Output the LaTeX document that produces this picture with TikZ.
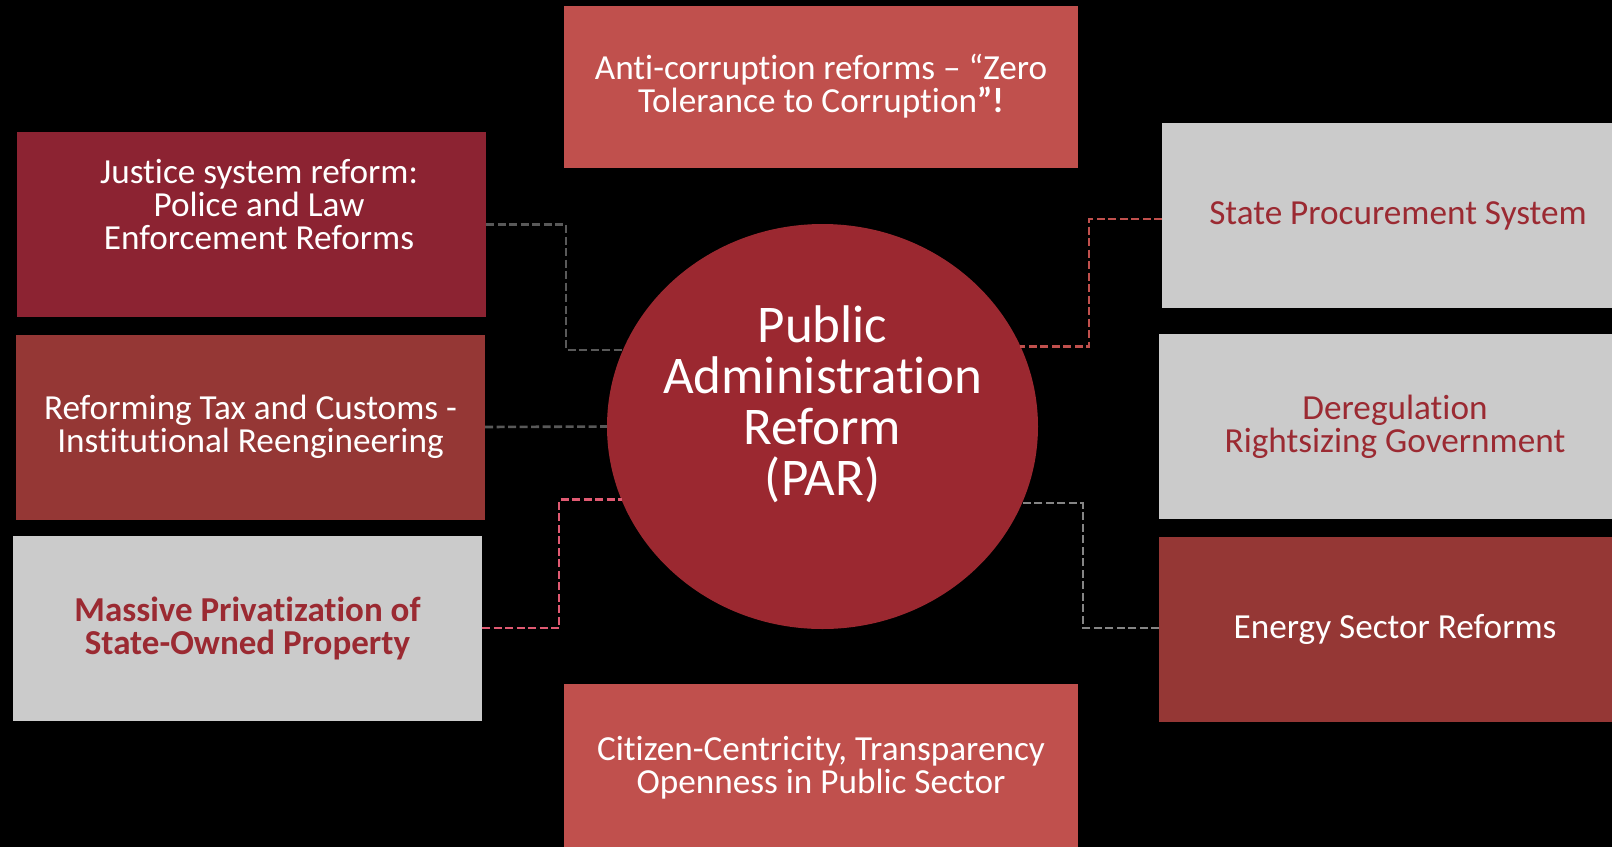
\documentclass[tikz,border=0pt]{standalone}
\usepackage{fontspec}
\setmainfont{Carlito}[Ligatures=TeX, RawFeature={-liga;-clig;-calt;-dlig}]
\usepackage{tikz}
\usetikzlibrary{shapes.geometric}

\definecolor{parred}{HTML}{9B2830}
\definecolor{lightred}{HTML}{C0504D}
\definecolor{darkred}{HTML}{8C2332}
\definecolor{brickred}{HTML}{953735}
\definecolor{boxgray}{HTML}{CBCBCB}
\definecolor{graytext}{HTML}{9B2A32}
\definecolor{pinkline}{HTML}{E05A72}
\definecolor{darkline}{HTML}{595959}
\definecolor{lightline}{HTML}{858585}

\tikzset{
	reform/.style={rectangle, inner sep=0pt, outer sep=0pt, align=center, text=white,
		font=\fontsize{35.2}{33}\selectfont},
	sidebox/.style={reform, minimum width=469pt, minimum height=185pt},
	rightbox/.style={reform, minimum width=472pt, minimum height=185pt},
	midbox/.style={reform, fill=lightred, minimum width=514pt, minimum height=162pt},
	graybox/.style={fill=boxgray, text=graytext},
	link/.style={line width=2.6pt, dash pattern=on 8pt off 3.5pt}
}

\begin{document}
\begin{tikzpicture}[x=1pt,y=-1pt]
					% Background
					\useasboundingbox (0,0) rectangle (1612,847);
					\fill[black] (0,0) rectangle (1612,847);
					% Centre
					\node[ellipse, fill=parred, inner sep=0pt, outer sep=0pt,
						minimum width=431pt, minimum height=405pt] (par) at (822.5,426.5) {};
					\node[align=center, text=white, font=\fontsize{53}{51}\selectfont] (partitle) at (par)
						{Public\\Administration\\Reform\\(PAR)\\\mbox{}};
					% Top and bottom
					\node[midbox] (anti) at (821,86.5) {Anti-corruption reforms -- “Zero\\Tolerance to Corruption\textbf{”!}};
					\node[midbox, minimum height=163pt] (citizen) at (821,765.5) {\\[-4pt]Citizen-Centricity, Transparency\\Openness in Public Sector};
					% Left column
					\node[sidebox, fill=darkred] (justice) at (251.5,224.5) {\hspace*{15pt}Justice system reform:\\\hspace*{15pt}Police and Law\\\hspace*{15pt}Enforcement Reforms\\[7pt]\mbox{}};
					\node[sidebox, fill=brickred] (tax) at (250.5,427) {Reforming Tax and Customs -\\Institutional Reengineering};
					\node[sidebox, graybox, font=\fontsize{35}{33}\selectfont\bfseries] (priv) at (247.5,628) {Massive Privatization of\\State-Owned Property};
					% Right column
					\node[rightbox, graybox] (proc) at (1398,215.5) {\raisebox{-4pt}{State Procurement System}};
					\node[rightbox, graybox] (dereg) at (1395,426) {\\[-6pt]Deregulation\\Rightsizing Government};
					\node[rightbox, fill=brickred] (energy) at (1395,629) {Energy Sector Reforms};
					% Connectors
					\draw[link, darkline] (justice.east) -- ++(80,0) |- (par.159.3);
					\draw[link, darkline] (tax.east) -- (par.west);
					\draw[link, pinkline] (priv.east) -- ++(77,0) |- (par.200.7);
					\draw[link, lightred] ([yshift=-3.5pt]proc.west) -- ++(-73,0) |- (par.22.4);
					\draw[link, lightline] ([yshift=1pt]energy.west) -- ++(-76,0) |- (par.339.3);
				\end{tikzpicture}
\end{document}
